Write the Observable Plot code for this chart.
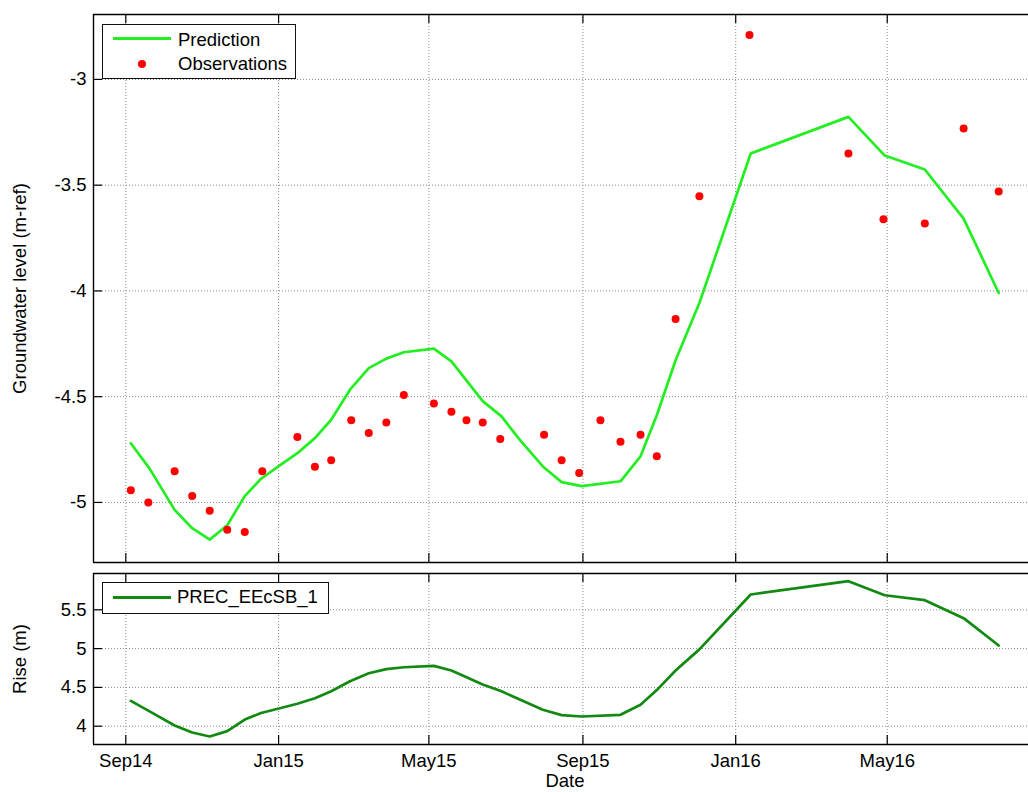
<!DOCTYPE html>
<html><head><meta charset="utf-8">
<script src="https://cdn.jsdelivr.net/npm/d3@7"></script>
<script src="https://cdn.jsdelivr.net/npm/@observablehq/plot@0.6"></script>
<style>
body{margin:0;background:#fff;font-family:"Liberation Sans",Arial,Helvetica,sans-serif;}
#wrap{position:relative;width:1028px;height:792px;overflow:hidden;background:#fff;}
#top,#bot{position:absolute;left:0;}
#top{top:0;} #bot{top:565px;}
.leg{position:absolute;border:1.3px solid #111;background:#fff;box-sizing:border-box;font-size:18.5px;color:#000;}
.leg .ln{position:absolute;height:3px;}
.leg .tx{position:absolute;line-height:20px;white-space:nowrap;}
.leg .dt{position:absolute;width:8px;height:8px;border-radius:50%;background:#f00;}
</style></head>
<body><div id="wrap"><div id="top"></div><div id="bot"></div>
<div class="leg" style="left:102px;top:24px;width:194px;height:55px;">
  <div class="ln" style="left:10px;top:12px;width:58px;background:#22ee22;"></div>
  <div class="tx" style="left:75px;top:5px;">Prediction</div>
  <div class="dt" style="left:35px;top:35px;"></div>
  <div class="tx" style="left:75px;top:29px;">Observations</div>
</div>
<div class="leg" style="left:102px;top:582px;width:227px;height:32px;">
  <div class="ln" style="left:10px;top:13px;width:58px;background:#128a12;"></div>
  <div class="tx" style="left:74px;top:4px;">PREC_EEcSB_1</div>
</div>
</div>
<script>
const predDates = ["2014-09-05","2014-09-20","2014-10-10","2014-10-24","2014-11-07","2014-11-21","2014-12-05","2014-12-18",
 "2015-01-02","2015-01-16","2015-01-30","2015-02-12","2015-02-27","2015-03-14","2015-03-28","2015-04-11","2015-05-05",
 "2015-05-19","2015-06-13","2015-06-28","2015-07-13","2015-07-31","2015-08-15","2015-08-31","2015-10-01","2015-10-17",
 "2015-10-30","2015-11-14","2015-12-03","2016-01-13","2016-03-31","2016-04-29","2016-05-31","2016-07-01","2016-07-29"];
const predValues = [-4.72,-4.84,-5.035,-5.122,-5.176,-5.108,-4.97,-4.888,-4.825,-4.767,-4.696,-4.609,-4.467,-4.365,-4.32,
 -4.29,-4.273,-4.333,-4.521,-4.593,-4.707,-4.83,-4.904,-4.923,-4.90,-4.782,-4.588,-4.328,-4.057,-3.35,-3.177,-3.36,-3.426,-3.658,-4.01];
const riseValues = [4.327,4.19,4.009,3.918,3.867,3.936,4.085,4.17,4.232,4.29,4.36,4.45,4.58,4.683,4.735,4.76,4.778,4.718,
 4.537,4.45,4.34,4.211,4.142,4.125,4.147,4.276,4.465,4.717,4.99,5.697,5.869,5.688,5.624,5.392,5.04];
const obsDates = ["2014-09-05","2014-09-19","2014-10-10","2014-10-24","2014-11-07","2014-11-21","2014-12-05","2014-12-19",
 "2015-01-16","2015-01-30","2015-02-12","2015-02-28","2015-03-14","2015-03-28","2015-04-11","2015-05-05","2015-05-19",
 "2015-05-31","2015-06-13","2015-06-27","2015-08-01","2015-08-15","2015-08-29","2015-09-15","2015-10-01","2015-10-17",
 "2015-10-30","2015-11-14","2015-12-03","2016-01-12","2016-03-31","2016-04-28","2016-05-31","2016-07-01","2016-07-29"];
const obsValues = [-4.942,-5.0,-4.852,-4.97,-5.039,-5.129,-5.14,-4.852,-4.691,-4.831,-4.801,-4.611,-4.672,-4.622,-4.492,
 -4.532,-4.571,-4.611,-4.622,-4.70,-4.68,-4.801,-4.861,-4.611,-4.713,-4.68,-4.782,-4.133,-3.552,-2.79,-3.35,-3.661,-3.681,-3.232,-3.53];
const xTickDates = ["2014-09-01","2015-01-01","2015-05-01","2015-09-01","2016-01-01","2016-05-01"];
const xTickLabels = ["Sep14","Jan15","May15","Sep15","Jan16","May16"];
const yTopTicks = [-5,-4.5,-4,-3.5,-3];
const yBotTicks = [4,4.5,5,5.5];

const P = s => new Date(s + "T00:00:00Z");
const xDomain = [new Date("2014-08-06T05:00:00Z"), new Date("2016-08-21T19:00:00Z")];
const xTicks = xTickDates.map(P);
const pred = predDates.map((d,i)=>({date:P(d), value:predValues[i]}));
const rise = predDates.map((d,i)=>({date:P(d), value:riseValues[i]}));
const obs = obsDates.map((d,i)=>({date:P(d), value:obsValues[i]}));
const topDom = [-5.284,-2.693], botDom = [3.764,5.968];
const W = 1028, ML = 93;
const font = '"Liberation Sans",Arial,Helvetica,sans-serif';
const grid = {stroke:"#8a8a8a", strokeOpacity:1, strokeDasharray:"1,2", strokeWidth:1};
const fmtX = d => xTickLabels[xTicks.findIndex(t => +t === +d)];

function frameMarks(dom, innerH){
  return [
    Plot.tickX(xTicks, {x:d=>d, insetBottom: innerH-9, stroke:"#000", strokeWidth:1.2}),
    Plot.tickX(xTicks, {x:d=>d, insetTop: innerH-9, stroke:"#000", strokeWidth:1.2}),
    Plot.ruleY([dom[0], dom[1]], {stroke:"#000", strokeWidth:1.4}),
    Plot.ruleX([xDomain[0]], {stroke:"#000", strokeWidth:1.4})
  ];
}

const topH = 565, topMT = 14, topMB = 3;
const topPlot = Plot.plot({
  width:W, height:topH, marginLeft:ML, marginRight:0, marginTop:topMT, marginBottom:topMB,
  style:{fontFamily:font, fontSize:"18.5px", background:"transparent", color:"#000"},
  x:{type:"utc", domain:xDomain, axis:null},
  y:{domain:topDom, axis:null},
  marks:[
    Plot.gridX(xTicks, grid),
    Plot.gridY(yTopTicks, grid),
    Plot.line(pred, {x:"date", y:"value", stroke:"#22ee22", strokeWidth:2.7}),
    Plot.dot(obs, {x:"date", y:"value", r:4, fill:"#f00", stroke:"none"}),
    Plot.tickY(yTopTicks, {y:d=>d, insetRight: W-ML-9, stroke:"#000", strokeWidth:1.2}),
    ...frameMarks(topDom, topH-topMT-topMB),
    Plot.axisY(yTopTicks, {tickSize:0, tickPadding:7, tickFormat:d=>String(d), label:null, fontSize:18.5}),
    Plot.text(["Groundwater level (m-ref)"], {text:d=>d, frameAnchor:"left", textAnchor:"middle", lineAnchor:"middle", rotate:-90, dx:-73, fontSize:18.5})
  ]
});
document.getElementById("top").appendChild(topPlot);

const botH = 227, botMT = 8, botMB = 48;
const botPlot = Plot.plot({
  width:W, height:botH, marginLeft:ML, marginRight:0, marginTop:botMT, marginBottom:botMB,
  style:{fontFamily:font, fontSize:"18.5px", background:"transparent", color:"#000", overflow:"visible"},
  x:{type:"utc", domain:xDomain, axis:null},
  y:{domain:botDom, axis:null},
  marks:[
    Plot.gridX(xTicks, grid),
    Plot.gridY(yBotTicks, grid),
    Plot.line(rise, {x:"date", y:"value", stroke:"#128a12", strokeWidth:2.7}),
    Plot.tickY(yBotTicks, {y:d=>d, insetRight: W-ML-9, stroke:"#000", strokeWidth:1.2}),
    ...frameMarks(botDom, botH-botMT-botMB),
    Plot.axisY(yBotTicks, {tickSize:0, tickPadding:7, tickFormat:d=>String(d), label:null, fontSize:18.5}),
    Plot.axisX(xTicks, {tickSize:0, tickPadding:9, tickFormat:fmtX, label:null, fontSize:18.5}),
    Plot.text(["Rise (m)"], {text:d=>d, frameAnchor:"left", textAnchor:"middle", lineAnchor:"middle", rotate:-90, dx:-73, fontSize:18.5}),
    Plot.text(["Date"], {text:d=>d, frameAnchor:"bottom", textAnchor:"middle", lineAnchor:"middle", dy:37, dx:4, fontSize:18.5})
  ]
});
document.getElementById("bot").appendChild(botPlot);
</script>
</body></html>
